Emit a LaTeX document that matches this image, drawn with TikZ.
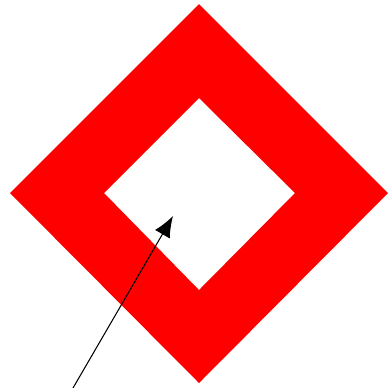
\documentclass[tikz,border=0pt]{standalone}
\usepackage{tikz}
\usetikzlibrary{arrows.meta}
\definecolor{ringred}{HTML}{FF0000}
\tikzset{
  ringfill/.style={fill=ringred,even odd rule},
  ringarrow/.style={-{Latex[length=4.2mm,width=3.4mm]},line width=0.6pt,black},
}
\begin{document}
\begin{tikzpicture}[x=0.02cm,y=-0.02cm]
 % frame and diamond ring
\useasboundingbox (0,0) rectangle (388,387);
\fill[ringfill] (199,4)--(388,193)--(199,383)--(10,193)--cycle
  (199,98)--(295,193)--(199,290)--(104,193)--cycle;
\coordinate (tail) at (73,388);
\coordinate (tip) at (173,216);
\draw[ringarrow] (tail)--(tip);
\end{tikzpicture}
\end{document}
